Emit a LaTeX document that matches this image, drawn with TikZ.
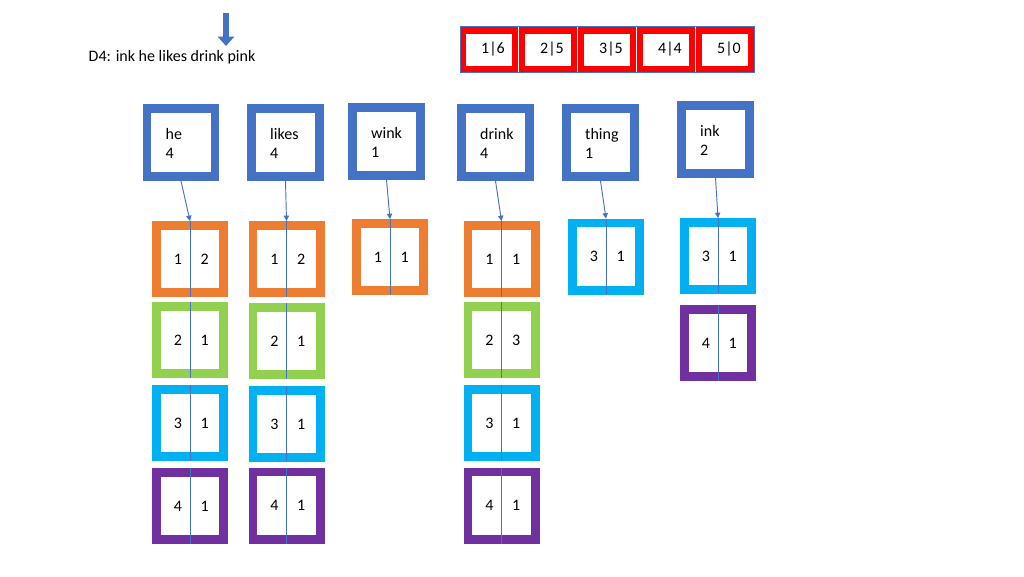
\documentclass[tikz,border=0pt]{standalone}
\usepackage{fontspec}
\setmainfont{Carlito}
\definecolor{cblue}{HTML}{4472C4}
\definecolor{corange}{HTML}{ED7D31}
\definecolor{cgreen}{HTML}{92D050}
\definecolor{ccyan}{HTML}{00B0F0}
\definecolor{cpurple}{HTML}{7030A0}
\usetikzlibrary{arrows.meta}
\tikzset{
 term/.style={draw=cblue,line width=6.5pt,minimum width=51pt,minimum height=51pt,inner sep=0pt},
 post/.style={draw=#1,line width=6.5pt,minimum width=50.5pt,minimum height=50.5pt,inner sep=0pt},
 red/.style={draw=red,line width=5pt,minimum width=39pt,minimum height=29pt,inner sep=0pt},
 txt/.style={font=\fontsize{12}{14}\selectfont},
 link/.style={cblue,line width=0.7pt,-{Triangle[width=4pt,length=4pt]}},
 divider/.style={cblue,line width=0.7pt}
}
\newcommand{\postbox}[6]{%
 \node[post=#4] (#1) at (#2,#3) {};
 \draw[divider] (#1.north) -- (#1.south);
 \node[txt] at ([xshift=-9pt]#1.center) {#5};
 \node[txt] at ([xshift=11pt]#1.center) {#6};
}
\newcommand{\termbox}[5]{%
 \node[term] (#1) at (#2,#3) {};
 \node[txt,align=left,anchor=north west] at ([xshift=-15pt,yshift=14pt]#1.center) {#4\\#5};
}
\begin{document}
\begin{tikzpicture}[x=0.75pt,y=-0.75pt]
\useasboundingbox (0,0) rectangle (1024,576);
% top arrow
\draw[cblue,line width=4pt,-{Triangle[width=12pt,length=7pt]}] (226,13) -- (226,46);
\node[txt,anchor=west] (title) at (84,57) {D4: ink he likes drink pink};
% red boxes
\foreach \i/\x/\t in {1/489/1|6,2/548/2|5,3/607/3|5,4/666/4|4,5/725/5|0}{
 \node[red] (r\i) at (\x,49.5) {};
 \node[txt] at ([xshift=3pt]r\i.center) {\t};
}
\draw[cblue,line width=0.5pt] (460,26) rectangle (754,72);
% terms
\termbox{he}{181}{142.5}{he}{4}
\termbox{likes}{285.5}{142.5}{likes}{4}
\termbox{wink}{386.5}{141.5}{wink}{1}
\termbox{drink}{495.5}{142.5}{drink}{4}
\termbox{thing}{600.5}{142.5}{thing}{1}
\termbox{ink}{715.5}{139.5}{ink}{2}
% postings
\postbox{he1}{190}{259}{corange}{1}{2}
\postbox{he2}{190}{340}{cgreen}{2}{1}
\postbox{he3}{190}{423}{ccyan}{3}{1}
\postbox{he4}{190}{506}{cpurple}{4}{1}
\postbox{li1}{286.5}{259}{corange}{1}{2}
\postbox{li2}{286.5}{341}{cgreen}{2}{1}
\postbox{li3}{286.5}{424}{ccyan}{3}{1}
\postbox{li4}{286.5}{505.5}{cpurple}{4}{1}
\postbox{wi1}{390}{257}{corange}{1}{1}
\postbox{dr1}{501.5}{259}{corange}{1}{1}
\postbox{dr2}{501.5}{340}{cgreen}{2}{3}
\postbox{dr3}{501.5}{423}{ccyan}{3}{1}
\postbox{dr4}{501.5}{505.5}{cpurple}{4}{1}
\postbox{th1}{606}{256.5}{ccyan}{3}{1}
\postbox{in1}{718}{256}{ccyan}{3}{1}
\postbox{in2}{718}{343}{cpurple}{4}{1}
% links
\draw[link] (he.south) -- (he1.north);
\draw[link] (likes.south) -- (li1.north);
\draw[link] (wink.south) -- (wi1.north);
\draw[link] (drink.south) -- (dr1.north);
\draw[link] (thing.south) -- (th1.north);
\draw[link] (ink.south) -- (in1.north);
\end{tikzpicture}
\end{document}
